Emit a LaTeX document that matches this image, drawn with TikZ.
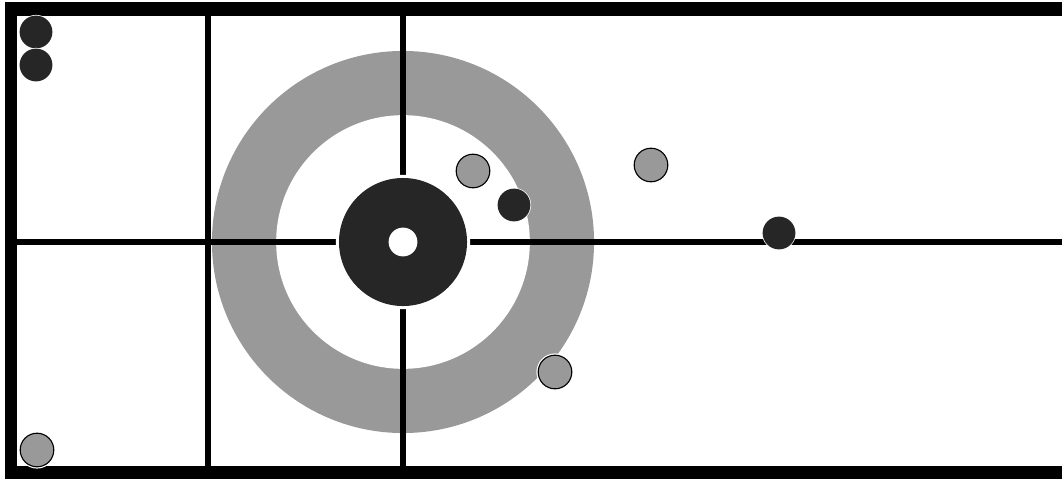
\documentclass[tikz,border=0pt]{standalone}
\usepackage{tikz}

\definecolor{ringgray}{HTML}{999999}
\definecolor{stonedark}{HTML}{262626}

\begin{document}
\begin{tikzpicture}[x=0.025cm, y=-0.025cm,
sheetline/.style={line width=0.15cm, color=black},
darkstone/.style={circle, fill=stonedark, inner sep=0pt, minimum size=0.82cm, preaction={draw=white, line width=1pt}},
graystone/.style={circle, fill=ringgray, draw=black, line width=0.8pt, inner sep=0pt, minimum size=0.84cm, preaction={draw=white, line width=2.5pt}}
]
\useasboundingbox (0,0) rectangle (1062,479);
\coordinate (tee) at (403,242);

% house
\fill[ringgray] (tee) circle (4.775cm);
\fill[white] (tee) circle (3.17cm);

% lines
\draw[sheetline] (207.5,16) -- (207.5,466);
\draw[sheetline] (403,16) -- (403,466);
\draw[sheetline] (17,242) -- (1062,242);

% button
\fill[white] (tee) circle (1.68cm);
\fill[stonedark] (tee) circle (1.6cm);
\fill[white] (tee) circle (0.36cm);

% sheet edges
\fill[black] (5,2) rectangle (1062,16);
\fill[black] (5,2) rectangle (17,479);
\fill[black] (5,466) rectangle (1062,479);

%\foreach \x in {1,...,4}
%{
%\node at (100*\x,100) {};
%}
\node[darkstone] (d1) at (36,32) {};
\node[darkstone] (d2) at (36,65) {};
\node[darkstone] (d3) at (514,205) {};
\node[darkstone] (d4) at (779,233) {};
\node[graystone] (g1) at (37,450) {};
\node[graystone] (g2) at (473,171) {};
\node[graystone] (g3) at (651,165) {};
\node[graystone] (g4) at (555,372) {};
\end{tikzpicture}
\end{document}
